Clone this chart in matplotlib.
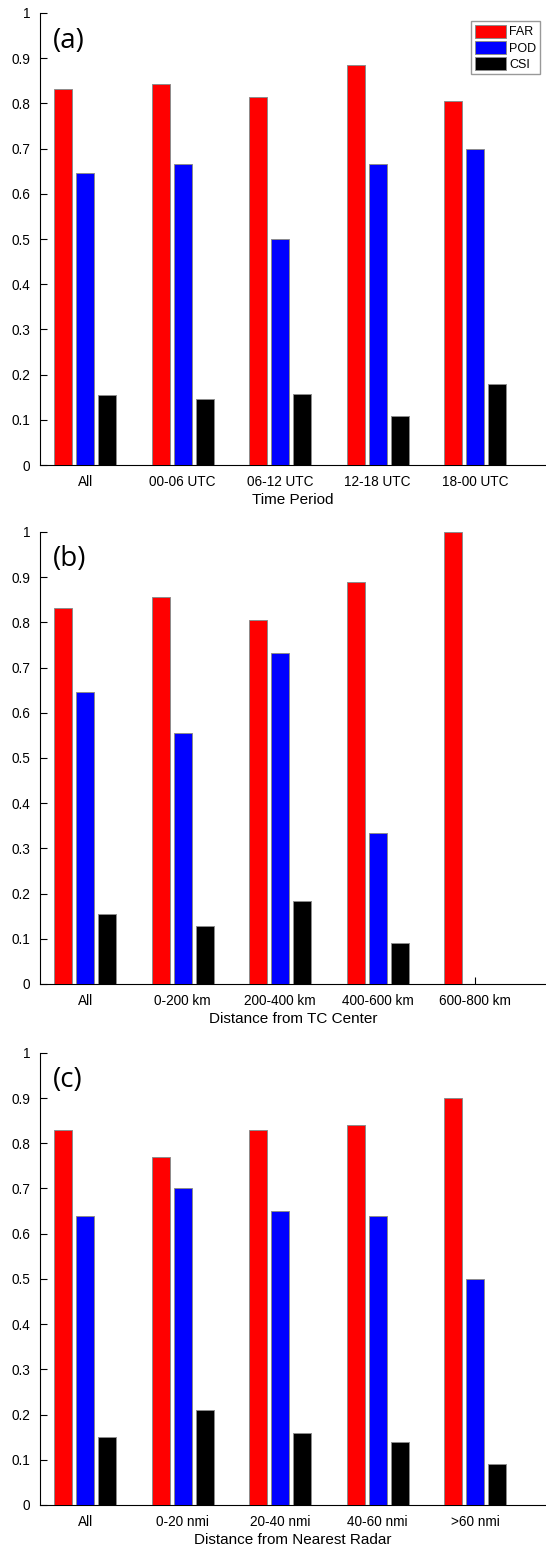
import numpy as np
import matplotlib.pyplot as plt

plt.rcParams['font.family'] = ['Liberation Sans', 'DejaVu Sans']

series = ['FAR', 'POD', 'CSI']
colors = ['#ff0000', '#0000ff', '#000000']

time_labels = ['All', '00-06 UTC', '06-12 UTC', '12-18 UTC', '18-00 UTC']
time_far = [0.832, 0.842, 0.815, 0.885, 0.806]
time_pod = [0.645, 0.667, 0.500, 0.667, 0.700]
time_csi = [0.155, 0.147, 0.157, 0.108, 0.180]

dist_labels = ['All', '0-200 km', '200-400 km', '400-600 km', '600-800 km']
dist_far = [0.832, 0.857, 0.805, 0.889, 1.0]
dist_pod = [0.645, 0.556, 0.733, 0.333, 0.0]
dist_csi = [0.155, 0.128, 0.183, 0.091, 0.0]

radar_labels = ['All', '0-20 nmi', '20-40 nmi', '40-60 nmi', '>60 nmi']
radar_far = [0.83, 0.77, 0.83, 0.84, 0.90]
radar_pod = [0.64, 0.70, 0.65, 0.64, 0.50]
radar_csi = [0.15, 0.21, 0.16, 0.14, 0.09]

panels = [
    ('(a)', 'Time Period', time_labels, [time_far, time_pod, time_csi]),
    ('(b)', 'Distance from TC Center', dist_labels, [dist_far, dist_pod, dist_csi]),
    ('(c)', 'Distance from Nearest Radar', radar_labels, [radar_far, radar_pod, radar_csi]),
]

fig = plt.figure(figsize=(5.46, 15.44), dpi=100)
bottoms = [0.6988, 0.3627, 0.0253]
h = 0.2928

for k, (tag, xlab, labels, vals) in enumerate(panels):
    ax = fig.add_axes([0.0733, bottoms[k], 0.9267, h])
    x = np.arange(1, len(labels) + 1)
    for i, v in enumerate(vals):
        v = np.array(v)
        keep = v > 0
        ax.bar(x[keep] + (i - 1) * 0.2256, v[keep], width=0.185, color=colors[i],
               edgecolor='#8c8c8c', linewidth=0.7, label=series[i], zorder=3)
    ax.set_xlim(0.538, 5.728)
    ax.set_ylim(0, 1)
    ax.set_yticks(np.arange(0, 1.01, 0.1))
    ax.set_yticklabels(['0'] + ['%.1f' % t for t in np.arange(0.1, 0.95, 0.1)] + ['1'])
    ax.set_xticks(x)
    ax.set_xticklabels(labels)
    ax.tick_params(direction='in', length=5, width=0.8, labelsize=9.8, pad=7)
    ax.set_xlabel(xlab, fontsize=11, labelpad=3)
    for s in ['top', 'right']:
        ax.spines[s].set_visible(False)
    ax.text(0.025, 0.97, tag, transform=ax.transAxes, fontsize=20,
            family=['Open Sans', 'DejaVu Sans'], va='top', ha='left')
    if k == 0:
        ax.legend(loc='upper right', bbox_to_anchor=(0.988, 0.982), fontsize=9,
                  frameon=True, fancybox=False, edgecolor='#808080',
                  handlelength=2.5, handleheight=1.2, handletextpad=0.25,
                  borderpad=0.3, labelspacing=0.2, borderaxespad=0)

fig.savefig('out.png', dpi=100)
